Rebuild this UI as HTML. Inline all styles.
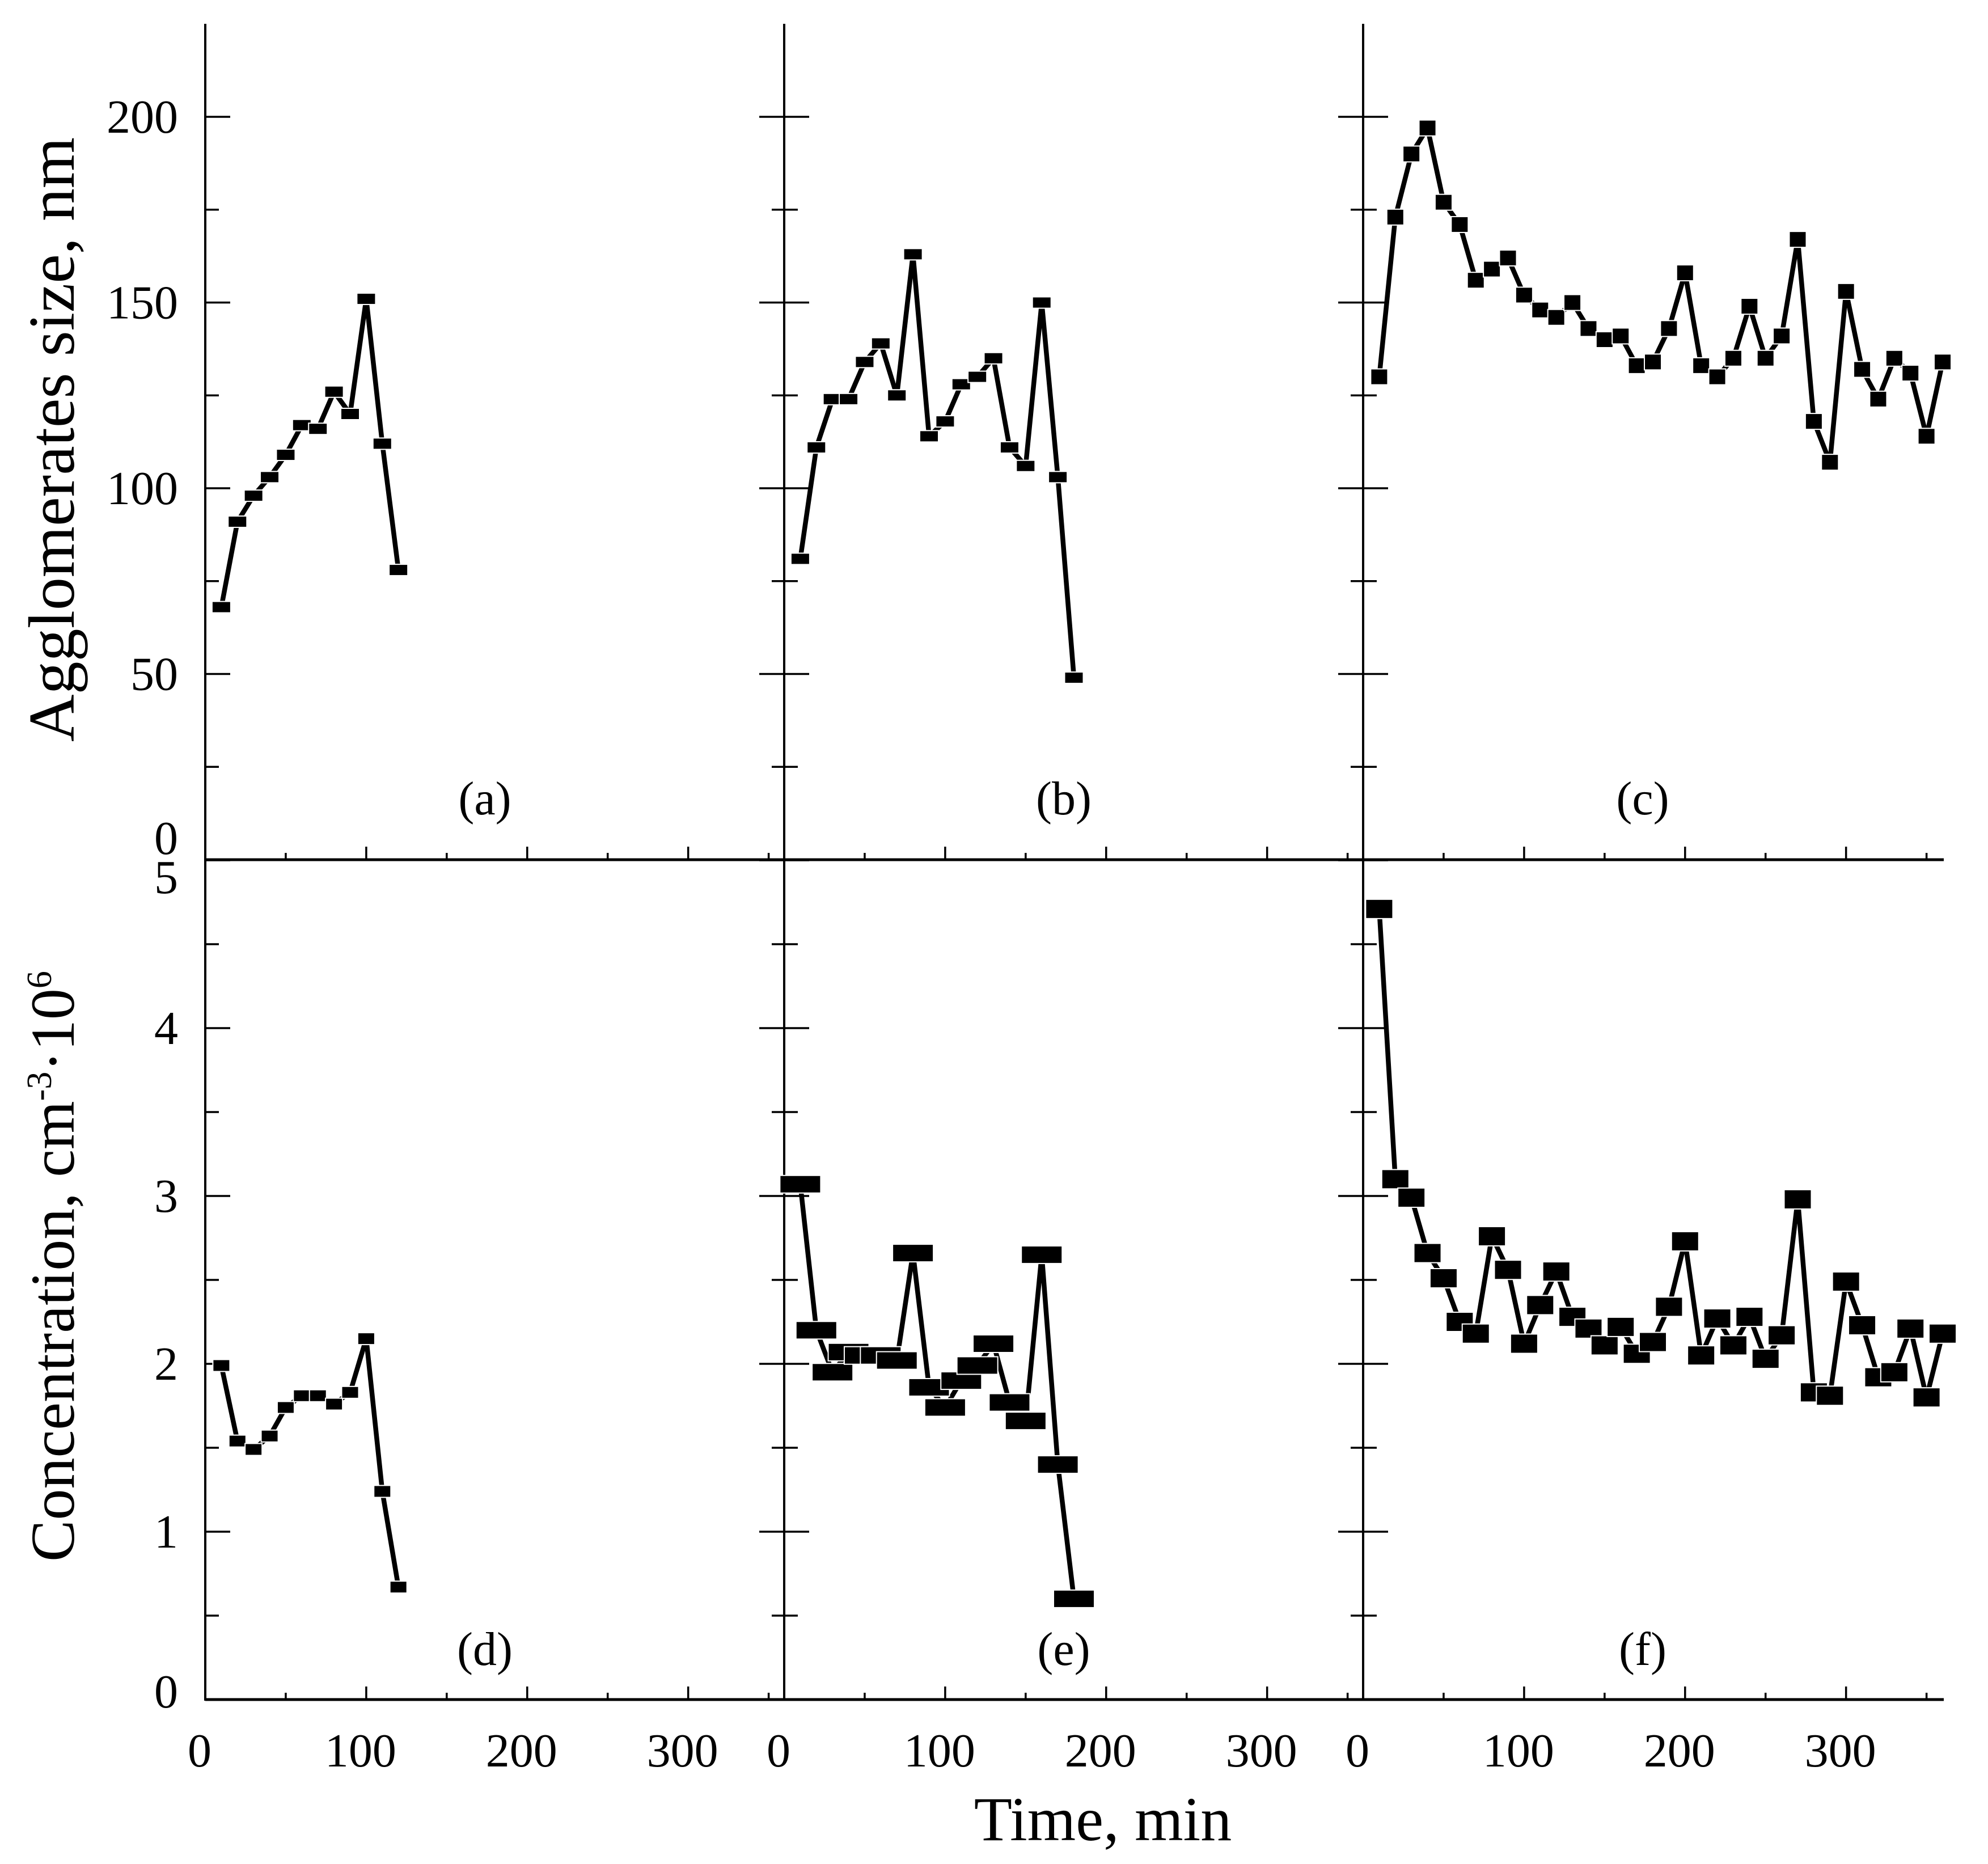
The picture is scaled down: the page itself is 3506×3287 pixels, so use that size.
<!DOCTYPE html>
<html><head><meta charset="utf-8"><style>
html,body{margin:0;padding:0;background:#fff}
svg{display:block}
text{font-family:"Liberation Serif",serif;fill:#000}
</style></head><body>
<svg id="chart" width="3506" height="3287" viewBox="0 0 3506 3287" xmlns="http://www.w3.org/2000/svg">
<g id="axes"></g>
<g id="series"></g>
<text transform="translate(130,775) rotate(-90)" text-anchor="middle" font-size="116">Agglomerates size, nm</text>
<text transform="translate(130,2233) rotate(-90)" text-anchor="middle" font-size="110">Concentration, cm<tspan font-size="62" dy="-40">-3</tspan><tspan dy="40">·10</tspan><tspan font-size="62" dy="-40">6</tspan></text>
<text x="1945" y="3245" text-anchor="middle" font-size="110">Time, min</text>
</svg>
<script>
const timesA = [10,20,30,40,50,60,70,80,90,100,110,120];
const sizeA = [68,91,98,103,109,117,116,126,120,151,112,78];
const timesB = [10,20,30,40,50,60,70,80,90,100,110,120,130,140,150,160,170,180];
const sizeB = [81,111,124,124,134,139,125,163,114,118,128,130,135,111,106,150,103,49];
const timesC = [10,20,30,40,50,60,70,80,90,100,110,120,130,140,150,160,170,180,190,200,210,220,230,240,250,260,270,280,290,300,310,320,330,340,350,360];
const sizeC = [130,173,190,197,177,171,156,159,162,152,148,146,150,143,140,141,133,134,143,158,133,130,135,149,135,141,167,118,107,153,132,124,135,131,114,134];
const concD = [1.99,1.54,1.49,1.57,1.74,1.81,1.81,1.76,1.83,2.15,1.24,0.67];
const concE = [3.07,2.20,1.95,2.07,2.05,2.05,2.02,2.66,1.86,1.74,1.90,1.99,2.12,1.77,1.66,2.65,1.40,0.60];
const concF = [4.71,3.10,2.99,2.66,2.51,2.25,2.18,2.76,2.56,2.12,2.35,2.55,2.28,2.21,2.11,2.22,2.06,2.13,2.34,2.73,2.05,2.27,2.11,2.28,2.03,2.17,2.98,1.83,1.81,2.49,2.23,1.92,1.95,2.21,1.80,2.18];
const xTickLabels = ["0","100","200","300"];
const topYTickLabels = ["0","50","100","150","200"];
const botYTickLabels = ["0","1","2","3","4","5"];
const panelLabels = ["(a)","(b)","(c)","(d)","(e)","(f)"];

const NS = "http://www.w3.org/2000/svg";
const axes = document.getElementById('axes');
const series = document.getElementById('series');
const lefts = [362,1383,2404];
const PW = 1022, XMAX = 360;
const xs = (p,v) => lefts[p] + v*PW/XMAX;
const yTop = v => 1516 - v*6.55;
const yBot = v => 2997 - v*296;
function mk(tag, attrs, parent){
  const e = document.createElementNS(NS, tag);
  for (const k in attrs) e.setAttribute(k, attrs[k]);
  parent.appendChild(e);
  return e;
}
function line(x1,y1,x2,y2,w){
  return mk('line',{x1,y1,x2,y2,stroke:'#000','stroke-width':w},axes);
}
let l;
l = line(362,1516,3428,1516,5);


l = line(362,2997,3428,2997,5);


for (let p=0;p<3;p++){
  l = line(lefts[p],42,lefts[p],2999,4);
  
  
  for (let v=0; v<=350; v+=50){
    const major = v%100===0;
    const len = major?23:12;
    const xx = xs(p,v);
    l = line(xx,1516,xx,1516-len,3.5);
    
    
    l = line(xx,2997,xx,2997-len,3.5);
    
    
  }
  xTickLabels.forEach((t,i)=>{
    const tx = mk('text',{x:xs(p,i*100)-10,y:3115,'text-anchor':'middle','font-size':84},axes);
    tx.textContent = t;
    
    
  });
  for (let v=0; v<=200; v+=25){
    const major = v%50===0;
    const r = major?44:24, lf = p===0?0:(major?44:22);
    l = line(lefts[p]-lf,yTop(v),lefts[p]+r,yTop(v),3.5);
    
    
  }
  for (let k=0; k<=10; k++){
    const v = k*0.5, major = k%2===0;
    const r = major?44:24, lf = p===0?0:(major?44:22);
    l = line(lefts[p]-lf,yBot(v),lefts[p]+r,yBot(v),3.5);
    
    
  }
}
topYTickLabels.forEach((t,i)=>{
  const v=i*50;
  const yy = v===0 ? yTop(v)-10 : yTop(v)+28;
  const tx = mk('text',{x:314,y:yy,'text-anchor':'end','font-size':84},axes);
  tx.textContent = t;
  
  
});
botYTickLabels.forEach((t,i)=>{
  const yy = i===5 ? yBot(i)+58 : (i===0 ? yBot(i)+14 : yBot(i)+28);
  const tx = mk('text',{x:314,y:yy,'text-anchor':'end','font-size':84},axes);
  tx.textContent = t;
  
  
});
panelLabels.forEach((t,i)=>{
  const p=i%3;
  const tx = mk('text',{x:lefts[p]+493,y:i<3?1436:2936,'text-anchor':'middle','font-size':84},axes);
  tx.textContent = t;
  
  
});
function drawSeries(p, times, vals, yf, mw, mh, name){
  const g = mk('g',{},series);
  
  
  const pts = times.slice(0,vals.length).map((t,i)=>xs(p,t)+','+yf(vals[i])).join(' ');
  const pl = mk('polyline',{points:pts,fill:'none',stroke:'#000','stroke-width':8.5,'stroke-linejoin':'miter'},g);
  
  
  vals.forEach((v,i)=>{
    const r = mk('rect',{x:xs(p,times[i])-mw/2,y:yf(v)-mh/2,width:mw,height:mh,fill:'#000',stroke:'#fff','stroke-width':2},g);
    
    
  });
}
drawSeries(0,timesA,sizeA,yTop,33,20,'series-a');
drawSeries(1,timesB,sizeB,yTop,33,20,'series-b');
drawSeries(2,timesC,sizeC,yTop,30,28,'series-c');
drawSeries(0,timesA,concD,yBot,30,21,'series-d');
drawSeries(1,timesB,concE,yBot,72,31,'series-e');
drawSeries(2,timesC,concF,yBot,48,34,'series-f');
</script>
</body></html>
